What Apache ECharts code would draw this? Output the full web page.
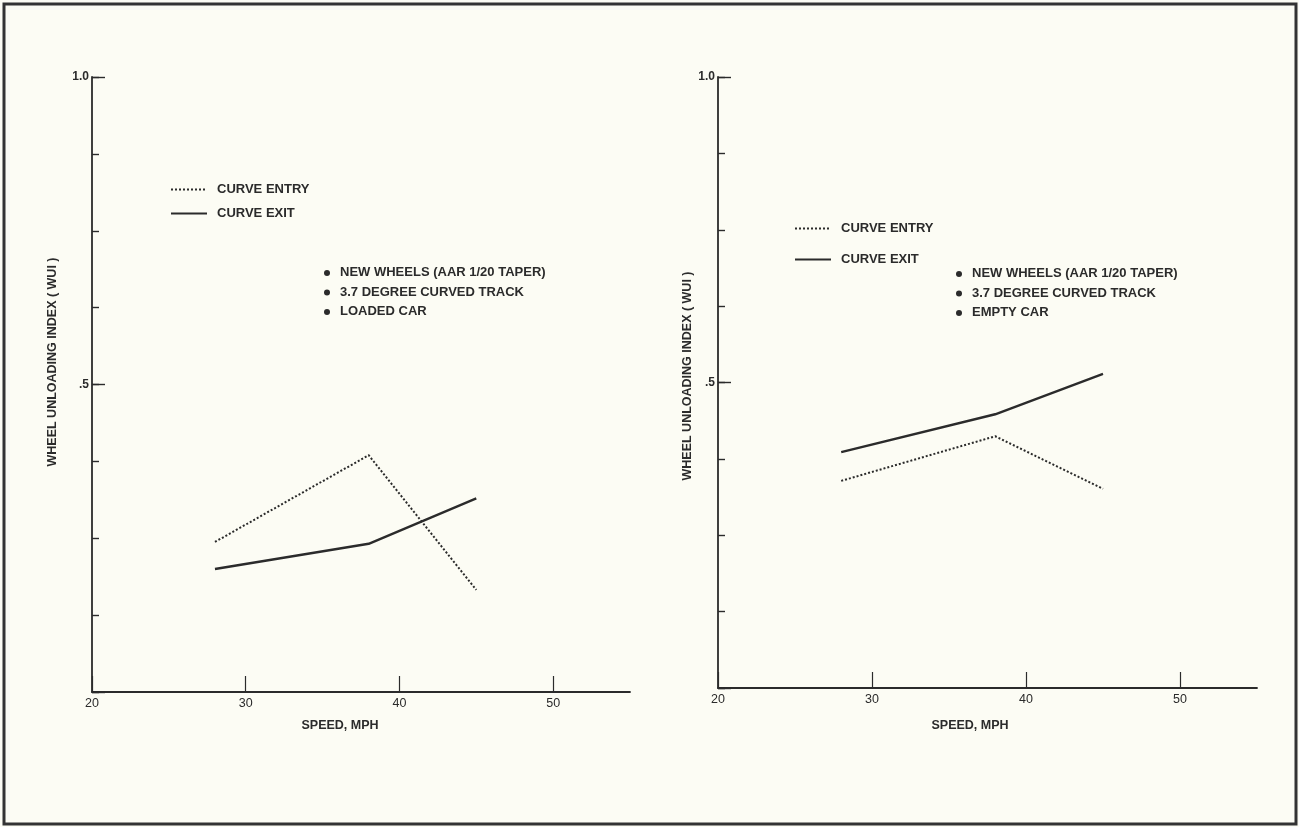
<!DOCTYPE html>
<html>
<head>
<meta charset="utf-8">
<script src="https://cdn.jsdelivr.net/npm/echarts@6/dist/echarts.min.js"></script>
<style>
  html, body { margin: 0; padding: 0; background: #fcfcf4; }
  #chart { width: 1299px; height: 827px; }
</style>
</head>
<body>
<div id="chart"></div>
<script>
// Speeds (mph) at which wheel unloading was measured
const speeds = [28, 38, 45];

// Loaded car, 3.7 degree curve
const loadedEntry = [0.244, 0.385, 0.166];
const loadedExit  = [0.200, 0.241, 0.315];

// Empty car, 3.7 degree curve
const emptyEntry = [0.339, 0.412, 0.326];
const emptyExit  = [0.386, 0.448, 0.514];

// Tick labels shown on the WUI axis
const yTickLabels = { '1': '1.0', '0.5': '.5' };
const xTickLabels = ['20', '30', '40', '50'];

const loadedNotes = ['NEW WHEELS (AAR 1/20 TAPER)', '3.7 DEGREE CURVED TRACK', 'LOADED CAR'];
const emptyNotes  = ['NEW WHEELS (AAR 1/20 TAPER)', '3.7 DEGREE CURVED TRACK', 'EMPTY CAR'];

const INK = '#2b2b2b';
const FONT = '"Liberation Sans", Arial, sans-serif';

const pairs = (vals) => speeds.map((s, i) => [s, vals[i]]);

const grids = [
  { left: 92, top: 77, width: 538, height: 615 },
  { left: 718, top: 77, width: 539, height: 611 }
];

function xAxisFor(gi) {
  return {
    type: 'value', gridIndex: gi, min: 20, max: 55, interval: 10,
    axisLine: { lineStyle: { color: INK, width: 1.8 } },
    axisTick: { inside: true, length: 16, lineStyle: { color: INK, width: 1.2 } },
    axisLabel: {
      color: INK, fontFamily: FONT, fontSize: 12.5, margin: 5, showMaxLabel: false,
      formatter: (v) => (xTickLabels.includes(String(v)) ? String(v) : '')
    },
    splitLine: { show: false }
  };
}

// Two value axes per panel: short ticks every 1/8, long labelled ticks at .5 and 1.0
function yAxesFor(gi) {
  return [
    {
      type: 'value', gridIndex: gi, min: 0, max: 1, interval: 0.125,
      axisLine: { show: true, lineStyle: { color: INK, width: 1.8 } },
      axisTick: { show: true, inside: true, length: 7, lineStyle: { color: INK, width: 1.4 } },
      axisLabel: { show: false },
      splitLine: { show: false }
    },
    {
      type: 'value', gridIndex: gi, min: 0, max: 1, interval: 0.5, position: 'left',
      axisLine: { show: false },
      axisTick: { show: true, inside: true, length: 13, lineStyle: { color: INK, width: 1.4 } },
      axisLabel: {
        color: INK, fontFamily: FONT, fontSize: 12, fontWeight: 'bold', margin: 3,
        formatter: (v) => yTickLabels[String(v)] || ''
      },
      splitLine: { show: false }
    }
  ];
}

function lineSeries(name, gi, vals, dotted) {
  return {
    name, type: 'line', xAxisIndex: gi, yAxisIndex: gi * 2,
    data: pairs(vals), symbol: 'none', silent: true, color: INK,
    lineStyle: dotted
      ? { color: INK, width: 2, type: [2, 2] }
      : { color: INK, width: 2.4 },
    z: 3
  };
}

function notesGroup(x, y, lines, gap) {
  return {
    type: 'group', left: x, top: y,
    children: lines.map((t, i) => ({
      type: 'group', y: i * gap,
      children: [
        { type: 'circle', shape: { cx: 3, cy: 7, r: 3 }, style: { fill: INK } },
        { type: 'text', x: 16, y: 0, style: { text: t, fill: INK, font: 'bold 13px ' + FONT } }
      ]
    }))
  };
}

function rotatedTitle(cx, cy, text) {
  return {
    type: 'text', x: cx, y: cy, rotation: Math.PI / 2,
    style: { text, fill: INK, font: 'bold 12.5px ' + FONT, align: 'center', verticalAlign: 'middle' }
  };
}

function flatTitle(cx, cy, text) {
  return {
    type: 'text', x: cx, y: cy,
    style: { text, fill: INK, font: 'bold 12.5px ' + FONT, align: 'center', verticalAlign: 'middle' }
  };
}

const legendBase = {
  orient: 'vertical', itemWidth: 36, itemHeight: 12, padding: 0,
  selectedMode: false, data: ['CURVE ENTRY', 'CURVE EXIT'],
  itemStyle: { opacity: 0 },
  textStyle: { color: INK, fontFamily: FONT, fontSize: 13, fontWeight: 'bold', padding: [0, 0, 0, 5] }
};

const chart = echarts.init(document.getElementById('chart'), null, { renderer: 'canvas' });
chart.setOption({
  backgroundColor: '#fcfcf4',
  animation: false,
  grid: grids,
  xAxis: [xAxisFor(0), xAxisFor(1)],
  yAxis: [...yAxesFor(0), ...yAxesFor(1)],
  legend: [
    Object.assign({}, legendBase, { left: 170, top: 183, itemGap: 11 }),
    Object.assign({}, legendBase, { left: 794, top: 222, itemGap: 18 })
  ],
  series: [
    lineSeries('CURVE ENTRY', 0, loadedEntry, true),
    lineSeries('CURVE EXIT', 0, loadedExit, false),
    lineSeries('CURVE ENTRY', 1, emptyEntry, true),
    lineSeries('CURVE EXIT', 1, emptyExit, false)
  ],
  graphic: [
    {
      type: 'rect', shape: { x: 4, y: 4, width: 1292, height: 820 },
      style: { fill: null, stroke: '#333', lineWidth: 3 }, silent: true
    },
    rotatedTitle(53, 362, 'WHEEL UNLOADING INDEX ( WUI )'),
    rotatedTitle(688, 376, 'WHEEL UNLOADING INDEX ( WUI )'),
    flatTitle(340, 726, 'SPEED, MPH'),
    flatTitle(970, 726, 'SPEED, MPH'),
    notesGroup(324, 266, loadedNotes, 19.5),
    notesGroup(956, 267, emptyNotes, 19.5)
  ]
});
</script>
</body>
</html>
